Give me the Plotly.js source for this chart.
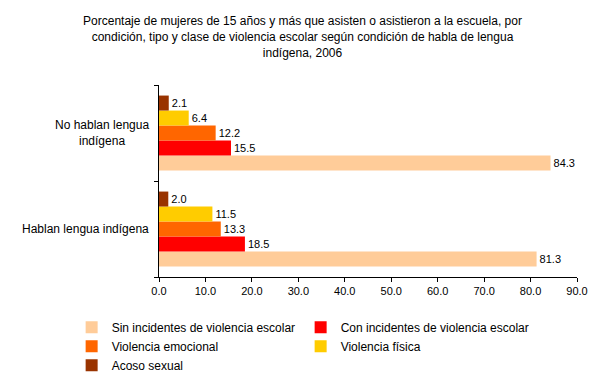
<!DOCTYPE html>
<html>
<head>
<meta charset="utf-8">
<script src="https://cdn.plot.ly/plotly-3.0.1.min.js"></script>
<style>html,body{margin:0;padding:0;background:#fff;}</style>
</head>
<body>
<div id="chart" style="width:605px;height:385px;"></div>
<script>
const categories = ["Hablan lengua indígena", "No hablan lengua<br>indígena"];
const seriesNames = [
  "Sin incidentes de violencia escolar",
  "Con incidentes de violencia escolar",
  "Violencia emocional",
  "Violencia física",
  "Acoso sexual"
];
const sinIncidentes = [81.3, 84.3];
const conIncidentes = [18.5, 15.5];
const violenciaEmocional = [13.3, 12.2];
const violenciaFisica = [11.5, 6.4];
const acosoSexual = [2.0, 2.1];
const colors = ["#FFCC99", "#FF0000", "#FF6600", "#FFCC00", "#993300"];
const xTicks = [0, 10, 20, 30, 40, 50, 60, 70, 80, 90];

const FONT = "Liberation Sans, Arial, sans-serif";
const values = [sinIncidentes, conIncidentes, violenciaEmocional, violenciaFisica, acosoSexual];
const traces = values.map((v, i) => ({
  type: "bar",
  orientation: "h",
  name: seriesNames[i],
  y: categories,
  x: v,
  marker: {color: colors[i], line: {width: 0}},
  text: v.map(d => d.toFixed(1)),
  textposition: "outside",
  cliponaxis: false,
  textfont: {family: FONT, size: 11, color: "#000"},
  hoverinfo: "x+name"
}));

const catAnnotations = categories.map(c => ({
  text: c,
  xref: "paper", x: -0.02, xanchor: "right",
  yref: "y", y: c, yanchor: "middle",
  align: "center",
  showarrow: false,
  font: {family: FONT, size: 12, color: "#000"}
}));

const layout = {
  width: 605,
  height: 385,
  margin: {l: 159, r: 28, t: 85, b: 108, autoexpand: false},
  paper_bgcolor: "#fff",
  plot_bgcolor: "#fff",
  font: {family: FONT, size: 11, color: "#000"},
  title: {
    text: "Porcentaje de mujeres de 15 años y más que asisten o asistieron a la escuela, por<br>condición, tipo y clase de violencia escolar según condición de habla de lengua<br>indígena, 2006",
    font: {family: FONT, size: 12, color: "#000"},
    x: 0.5, xanchor: "center",
    yref: "container", y: 0.934, yanchor: "top"
  },
  barmode: "group",
  bargap: 0.22,
  bargroupgap: 0,
  showlegend: true,
  legend: {
    orientation: "h",
    x: -0.209, xanchor: "left",
    y: -0.186, yanchor: "top",
    entrywidth: 184,
    entrywidthmode: "pixels",
    traceorder: "normal",
    itemclick: false,
    font: {family: FONT, size: 12, color: "#000"},
    tracegroupgap: 0,
    itemwidth: 30
  },
  annotations: catAnnotations,
  xaxis: {
    range: [0, 90],
    tickvals: xTicks,
    tickformat: ".1f",
    ticks: "outside",
    ticklen: 4,
    tickcolor: "#000",
    showline: true,
    linecolor: "#000",
    linewidth: 1,
    showgrid: false,
    zeroline: false,
    tickfont: {family: FONT, size: 11, color: "#000"},
    fixedrange: true
  },
  yaxis: {
    type: "category",
    tickson: "boundaries",
    ticks: "outside",
    ticklen: 4,
    tickcolor: "#000",
    showline: true,
    linecolor: "#000",
    linewidth: 1,
    showgrid: false,
    zeroline: false,
    showticklabels: false,
    fixedrange: true
  }
};

Plotly.newPlot("chart", traces, layout, {displayModeBar: false});
</script>
</body>
</html>
